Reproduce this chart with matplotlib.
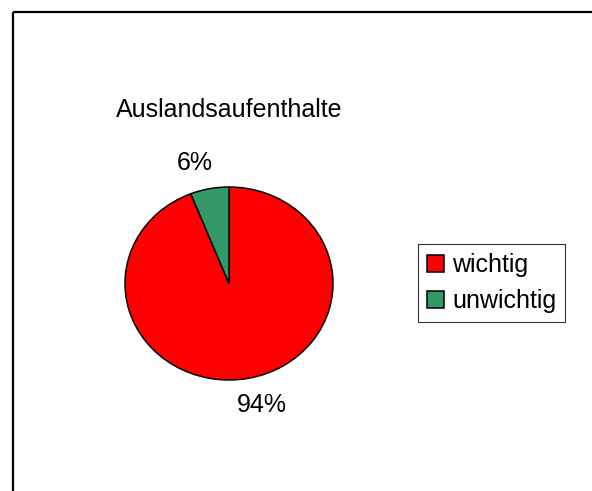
import matplotlib
matplotlib.use("Agg")
import matplotlib.pyplot as plt
from matplotlib.lines import Line2D

plt.rcParams['font.family'] = ['Liberation Sans', 'DejaVu Sans']

title = "Auslandsaufenthalte"
categories = ["wichtig", "unwichtig"]
values = [94, 6]
colors = ["#FF0000", "#339966"]

W, H = 592, 491
fig = plt.figure(figsize=(W / 100, H / 100), dpi=100)
fig.patch.set_facecolor("white")

# outer frame (left and top visible, right/bottom run off the image)
fig.add_artist(Line2D([13 / W, 13 / W], [1 - 12 / H, -0.1], transform=fig.transFigure,
                      color="black", lw=1.6, solid_capstyle="butt"))
fig.add_artist(Line2D([13 / W, 1.1], [1 - 12 / H, 1 - 12 / H], transform=fig.transFigure,
                      color="black", lw=1.6, solid_capstyle="butt"))

# pie axes (slightly elliptical like the reference)
cx, cy, rx, ry = 229, 283.5, 104, 96.5
ax = fig.add_axes([(cx - rx) / W, 1 - (cy + ry) / H, 2 * rx / W, 2 * ry / H])
wedges, texts, autotexts = ax.pie(values, colors=colors, startangle=90, counterclock=False,
                                  autopct='%1.0f%%', pctdistance=1.27,
                                  wedgeprops=dict(edgecolor="black", linewidth=1.1),
                                  textprops=dict(fontsize=18, color="black"))
ax.set_aspect('auto')
ax.set_xlim(-1, 1)
ax.set_ylim(-1, 1)
ax.axis('off')
autotexts[0].set_position(((262 - cx) / rx, (cy - 405) / ry))
autotexts[1].set_position(((195 - cx) / rx, (cy - 163) / ry))

fig.text(229 / W, 1 - 110 / H, title, ha="center", va="center", fontsize=18)

leg = fig.legend(wedges, categories, loc="upper left",
                 bbox_to_anchor=(418 / W, 1 - 244 / H), bbox_transform=fig.transFigure,
                 borderaxespad=0, fontsize=18, frameon=True, fancybox=False,
                 handlelength=0.68, handleheight=0.68, handletextpad=0.32,
                 borderpad=0.36, labelspacing=0.48)
leg.get_frame().set_edgecolor("black")
leg.get_frame().set_linewidth(0.8)

fig.savefig("out.png", dpi=100, facecolor="white")
